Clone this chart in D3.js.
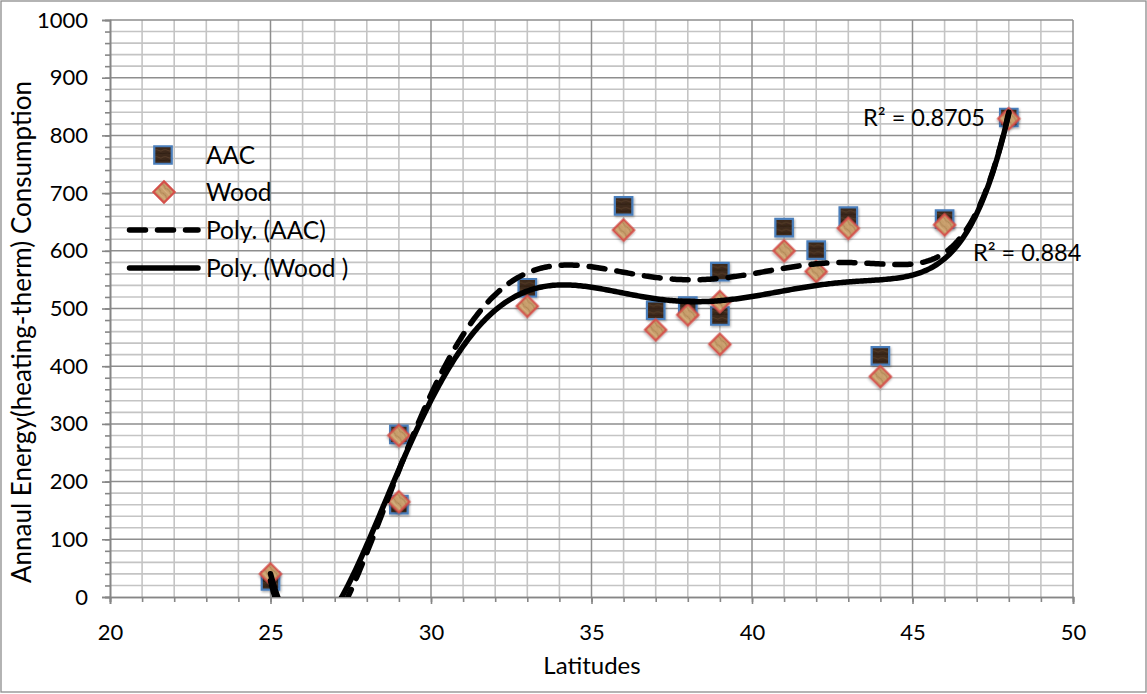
<!DOCTYPE html>
<html>
<head>
<meta charset="utf-8">
<script src="https://cdn.jsdelivr.net/npm/d3@7"></script>
<style>
  body { margin: 0; background: #fff; }
  svg { display: block; }
  text { font-family: Lato, "Open Sans", sans-serif; fill: #000; }
</style>
</head>
<body>
<svg id="chart" width="1147" height="694"></svg>
<script>
// Measured heating-therm consumption by latitude, two wall materials
const latitudes  = [25, 29, 29, 33, 36, 37, 38, 39, 39, 41, 42, 43, 44, 46, 48];
const aacValues  = [28, 282, 160, 536, 678, 497, 504, 564, 487, 640, 601, 660, 418, 655, 831];
const woodValues = [40, 280, 165, 504, 636, 463, 489, 512, 438, 600, 564, 639, 382, 645, 829];

const xTicks = [20, 25, 30, 35, 40, 45, 50];
const yTicks = [0, 100, 200, 300, 400, 500, 600, 700, 800, 900, 1000];
const seriesNames = ["AAC", "Wood", "Poly. (AAC)", "Poly. (Wood )"];
const rSquaredWood = "R\u00B2 = 0.8705";
const rSquaredAAC = "R\u00B2 = 0.884";
const polyOrder = 6;

const svg = d3.select("#chart");
const W = 1147, H = 694;
const x = d3.scaleLinear().domain([20, 50]).range([110, 1073]);
const y = d3.scaleLinear().domain([0, 1000]).range([597, 20]);

// chart frame
svg.append("rect").attr("x", 1).attr("y", 1).attr("width", W - 2).attr("height", H - 3)
  .attr("fill", "#fff").attr("stroke", "#8c8c8c").attr("stroke-width", 1.3);

// defs: wood textures, shadow, clip
const defs = svg.append("defs");
const dark = defs.append("pattern").attr("id", "woodDark").attr("patternUnits", "userSpaceOnUse")
  .attr("width", 9).attr("height", 7);
dark.append("rect").attr("width", 9).attr("height", 7).attr("fill", "#3d291b");
dark.append("path").attr("d", "M0 2 Q3 1 5 2.5 T9 2").attr("stroke", "#5a3f2b").attr("stroke-width", 0.9).attr("fill", "none");
dark.append("path").attr("d", "M0 5.5 Q4 4.5 9 5.8").attr("stroke", "#2c1d12").attr("stroke-width", 0.8).attr("fill", "none");
const light = defs.append("pattern").attr("id", "woodLight").attr("patternUnits", "userSpaceOnUse")
  .attr("width", 8).attr("height", 6);
light.append("rect").attr("width", 8).attr("height", 6).attr("fill", "#c89e6c");
light.append("path").attr("d", "M0 1.5 Q3 0.5 5 2 T8 1.5").attr("stroke", "#a77c4e").attr("stroke-width", 0.8).attr("fill", "none");
light.append("path").attr("d", "M0 4.5 Q4 3.5 8 4.8").attr("stroke", "#ddb988").attr("stroke-width", 0.8).attr("fill", "none");
const shadow = defs.append("filter").attr("id", "shadow").attr("x", "-40%").attr("y", "-40%").attr("width", "180%").attr("height", "180%");
shadow.append("feDropShadow").attr("dx", 1).attr("dy", 1.5).attr("stdDeviation", 1.2)
  .attr("flood-color", "#000").attr("flood-opacity", 0.3);
defs.append("clipPath").attr("id", "plotClip").append("rect")
  .attr("x", x(20)).attr("y", y(1000)).attr("width", x(50) - x(20)).attr("height", y(0) - y(1000));

// gridlines
const grid = svg.append("g");
const minorX = d3.range(21, 50).filter(v => v % 5 !== 0);
const minorY = d3.range(20, 1000, 20).filter(v => v % 100 !== 0);
grid.selectAll(".gxm").data(minorX).join("line")
  .attr("x1", d => x(d)).attr("x2", d => x(d)).attr("y1", y(0)).attr("y2", y(1000))
  .attr("stroke", "#c4c4c4").attr("stroke-width", 1.6);
grid.selectAll(".gym").data(minorY).join("line")
  .attr("x1", x(20)).attr("x2", x(50)).attr("y1", d => y(d)).attr("y2", d => y(d))
  .attr("stroke", "#c4c4c4").attr("stroke-width", 1.6);
grid.selectAll(".gxM").data(xTicks.slice(1)).join("line")
  .attr("x1", d => x(d)).attr("x2", d => x(d)).attr("y1", y(0)).attr("y2", y(1000))
  .attr("stroke", "#8e8e8e").attr("stroke-width", 1.5);
grid.selectAll(".gyM").data(yTicks.slice(1)).join("line")
  .attr("x1", x(20)).attr("x2", x(50)).attr("y1", d => y(d)).attr("y2", d => y(d))
  .attr("stroke", "#8e8e8e").attr("stroke-width", 1.5);

// axes
const axisColor = "#868686";
const xMinorAxis = svg.append("g").attr("transform", `translate(0,${y(0)})`)
  .call(d3.axisBottom(x).tickValues(d3.range(20, 51)).tickSize(5).tickFormat(""));
const yMinorAxis = svg.append("g").attr("transform", `translate(${x(20)},0)`)
  .call(d3.axisLeft(y).tickValues(d3.range(0, 1001, 20)).tickSize(5).tickFormat(""));
const xAxis = svg.append("g").attr("transform", `translate(0,${y(0)})`)
  .call(d3.axisBottom(x).tickValues(xTicks).tickSize(7).tickPadding(20).tickFormat(d3.format("d")));
const yAxis = svg.append("g").attr("transform", `translate(${x(20)},0)`)
  .call(d3.axisLeft(y).tickValues(yTicks).tickSize(8).tickPadding(14).tickFormat(d3.format("d")));
[xMinorAxis, yMinorAxis, xAxis, yAxis].forEach(g => {
  g.selectAll("path.domain").attr("stroke", axisColor).attr("stroke-width", 1.6);
  g.selectAll(".tick line").attr("stroke", axisColor).attr("stroke-width", 1.6);
  g.selectAll(".tick text").attr("font-size", 22).attr("font-family", "Lato, sans-serif").attr("fill", "#000");
});

// axis titles
svg.append("text").attr("x", 592).attr("y", 674).attr("text-anchor", "middle")
  .attr("font-size", 24).text("Latitudes");
svg.append("text").attr("transform", "translate(31,332) rotate(-90)").attr("text-anchor", "middle")
  .attr("font-size", 26).text("Annaul Energy(heating-therm) Consumption");

// least-squares polynomial trendline
function polyFit(xs, ys, order) {
  const c = 36.5, s = 11.5;
  const n = order + 1;
  const A = Array.from({ length: n }, () => new Array(n + 1).fill(0));
  xs.forEach((xv, i) => {
    const t = (xv - c) / s;
    const p = d3.range(2 * n).map(k => Math.pow(t, k));
    for (let r = 0; r < n; r++) {
      for (let q = 0; q < n; q++) A[r][q] += p[r + q];
      A[r][n] += p[r] * ys[i];
    }
  });
  for (let col = 0; col < n; col++) {
    let piv = col;
    for (let r = col + 1; r < n; r++) if (Math.abs(A[r][col]) > Math.abs(A[piv][col])) piv = r;
    [A[col], A[piv]] = [A[piv], A[col]];
    for (let r = 0; r < n; r++) {
      if (r === col) continue;
      const f = A[r][col] / A[col][col];
      for (let k = col; k <= n; k++) A[r][k] -= f * A[col][k];
    }
  }
  const coef = A.map((row, i) => row[n] / row[i]);
  return xv => { const t = (xv - c) / s; return coef.reduce((acc, a, k) => acc + a * Math.pow(t, k), 0); };
}
const fitAAC = polyFit(latitudes, aacValues, polyOrder);
const fitWood = polyFit(latitudes, woodValues, polyOrder);

// markers
const pts = latitudes.map((lat, i) => ({ lat, aac: aacValues[i], wood: woodValues[i] }));
const squarePath = d3.symbol(d3.symbolSquare, 17.5 * 17.5)();
const diamondPath = d3.symbol(d3.symbolSquare, 15 * 15)();
const markers = svg.append("g");
markers.selectAll(".aac").data(pts).join("path")
  .attr("d", squarePath).attr("transform", d => `translate(${x(d.lat)},${y(d.aac)})`)
  .attr("fill", "url(#woodDark)").attr("stroke", "#4a7ebb").attr("stroke-width", 2.2)
  .attr("filter", "url(#shadow)");
markers.selectAll(".wood").data(pts).join("path")
  .attr("d", diamondPath).attr("transform", d => `translate(${x(d.lat)},${y(d.wood)}) rotate(45)`)
  .attr("fill", "url(#woodLight)").attr("stroke", "#d4504a").attr("stroke-width", 2.2)
  .attr("filter", "url(#shadow)");

// trendlines
const xs = d3.range(25, 48.0001, 0.05);
const line = d3.line().x(d => x(d[0])).y(d => y(d[1]));
const trends = svg.append("g").attr("clip-path", "url(#plotClip)");
trends.append("path").datum(xs.map(v => [v, fitAAC(v)])).attr("d", line)
  .attr("fill", "none").attr("stroke", "#000").attr("stroke-width", 5.5)
  .attr("stroke-dasharray", "16 12").attr("stroke-linecap", "round");
trends.append("path").datum(xs.map(v => [v, fitWood(v)])).attr("d", line)
  .attr("fill", "none").attr("stroke", "#000").attr("stroke-width", 5.5)
  .attr("stroke-linecap", "round");

// R² labels
svg.append("text").attr("x", 985).attr("y", y(831) + 8).attr("text-anchor", "end")
  .attr("font-size", 23.5).text(rSquaredWood);
svg.append("text").attr("x", 973).attr("y", y(596) + 8)
  .attr("font-size", 23.5).text(rSquaredAAC);

// legend
const legend = svg.append("g");
const ly = [155, 192, 230, 268];
legend.append("path").attr("d", squarePath).attr("transform", `translate(163,${ly[0]})`)
  .attr("fill", "url(#woodDark)").attr("stroke", "#4a7ebb").attr("stroke-width", 2.2);
legend.append("path").attr("d", diamondPath).attr("transform", `translate(164,${ly[1]}) rotate(45)`)
  .attr("fill", "url(#woodLight)").attr("stroke", "#d4504a").attr("stroke-width", 2.2);
legend.append("line").attr("x1", 129.5).attr("x2", 198).attr("y1", ly[2]).attr("y2", ly[2])
  .attr("stroke", "#000").attr("stroke-width", 5.5).attr("stroke-dasharray", "16 12").attr("stroke-linecap", "round");
legend.append("line").attr("x1", 129.5).attr("x2", 198).attr("y1", ly[3]).attr("y2", ly[3])
  .attr("stroke", "#000").attr("stroke-width", 5.5).attr("stroke-linecap", "round");
legend.selectAll(".lt").data(seriesNames).join("text")
  .attr("x", 206).attr("y", (d, i) => ly[i] + 8.5).attr("font-size", 24.5).text(d => d);
</script>
</body>
</html>
